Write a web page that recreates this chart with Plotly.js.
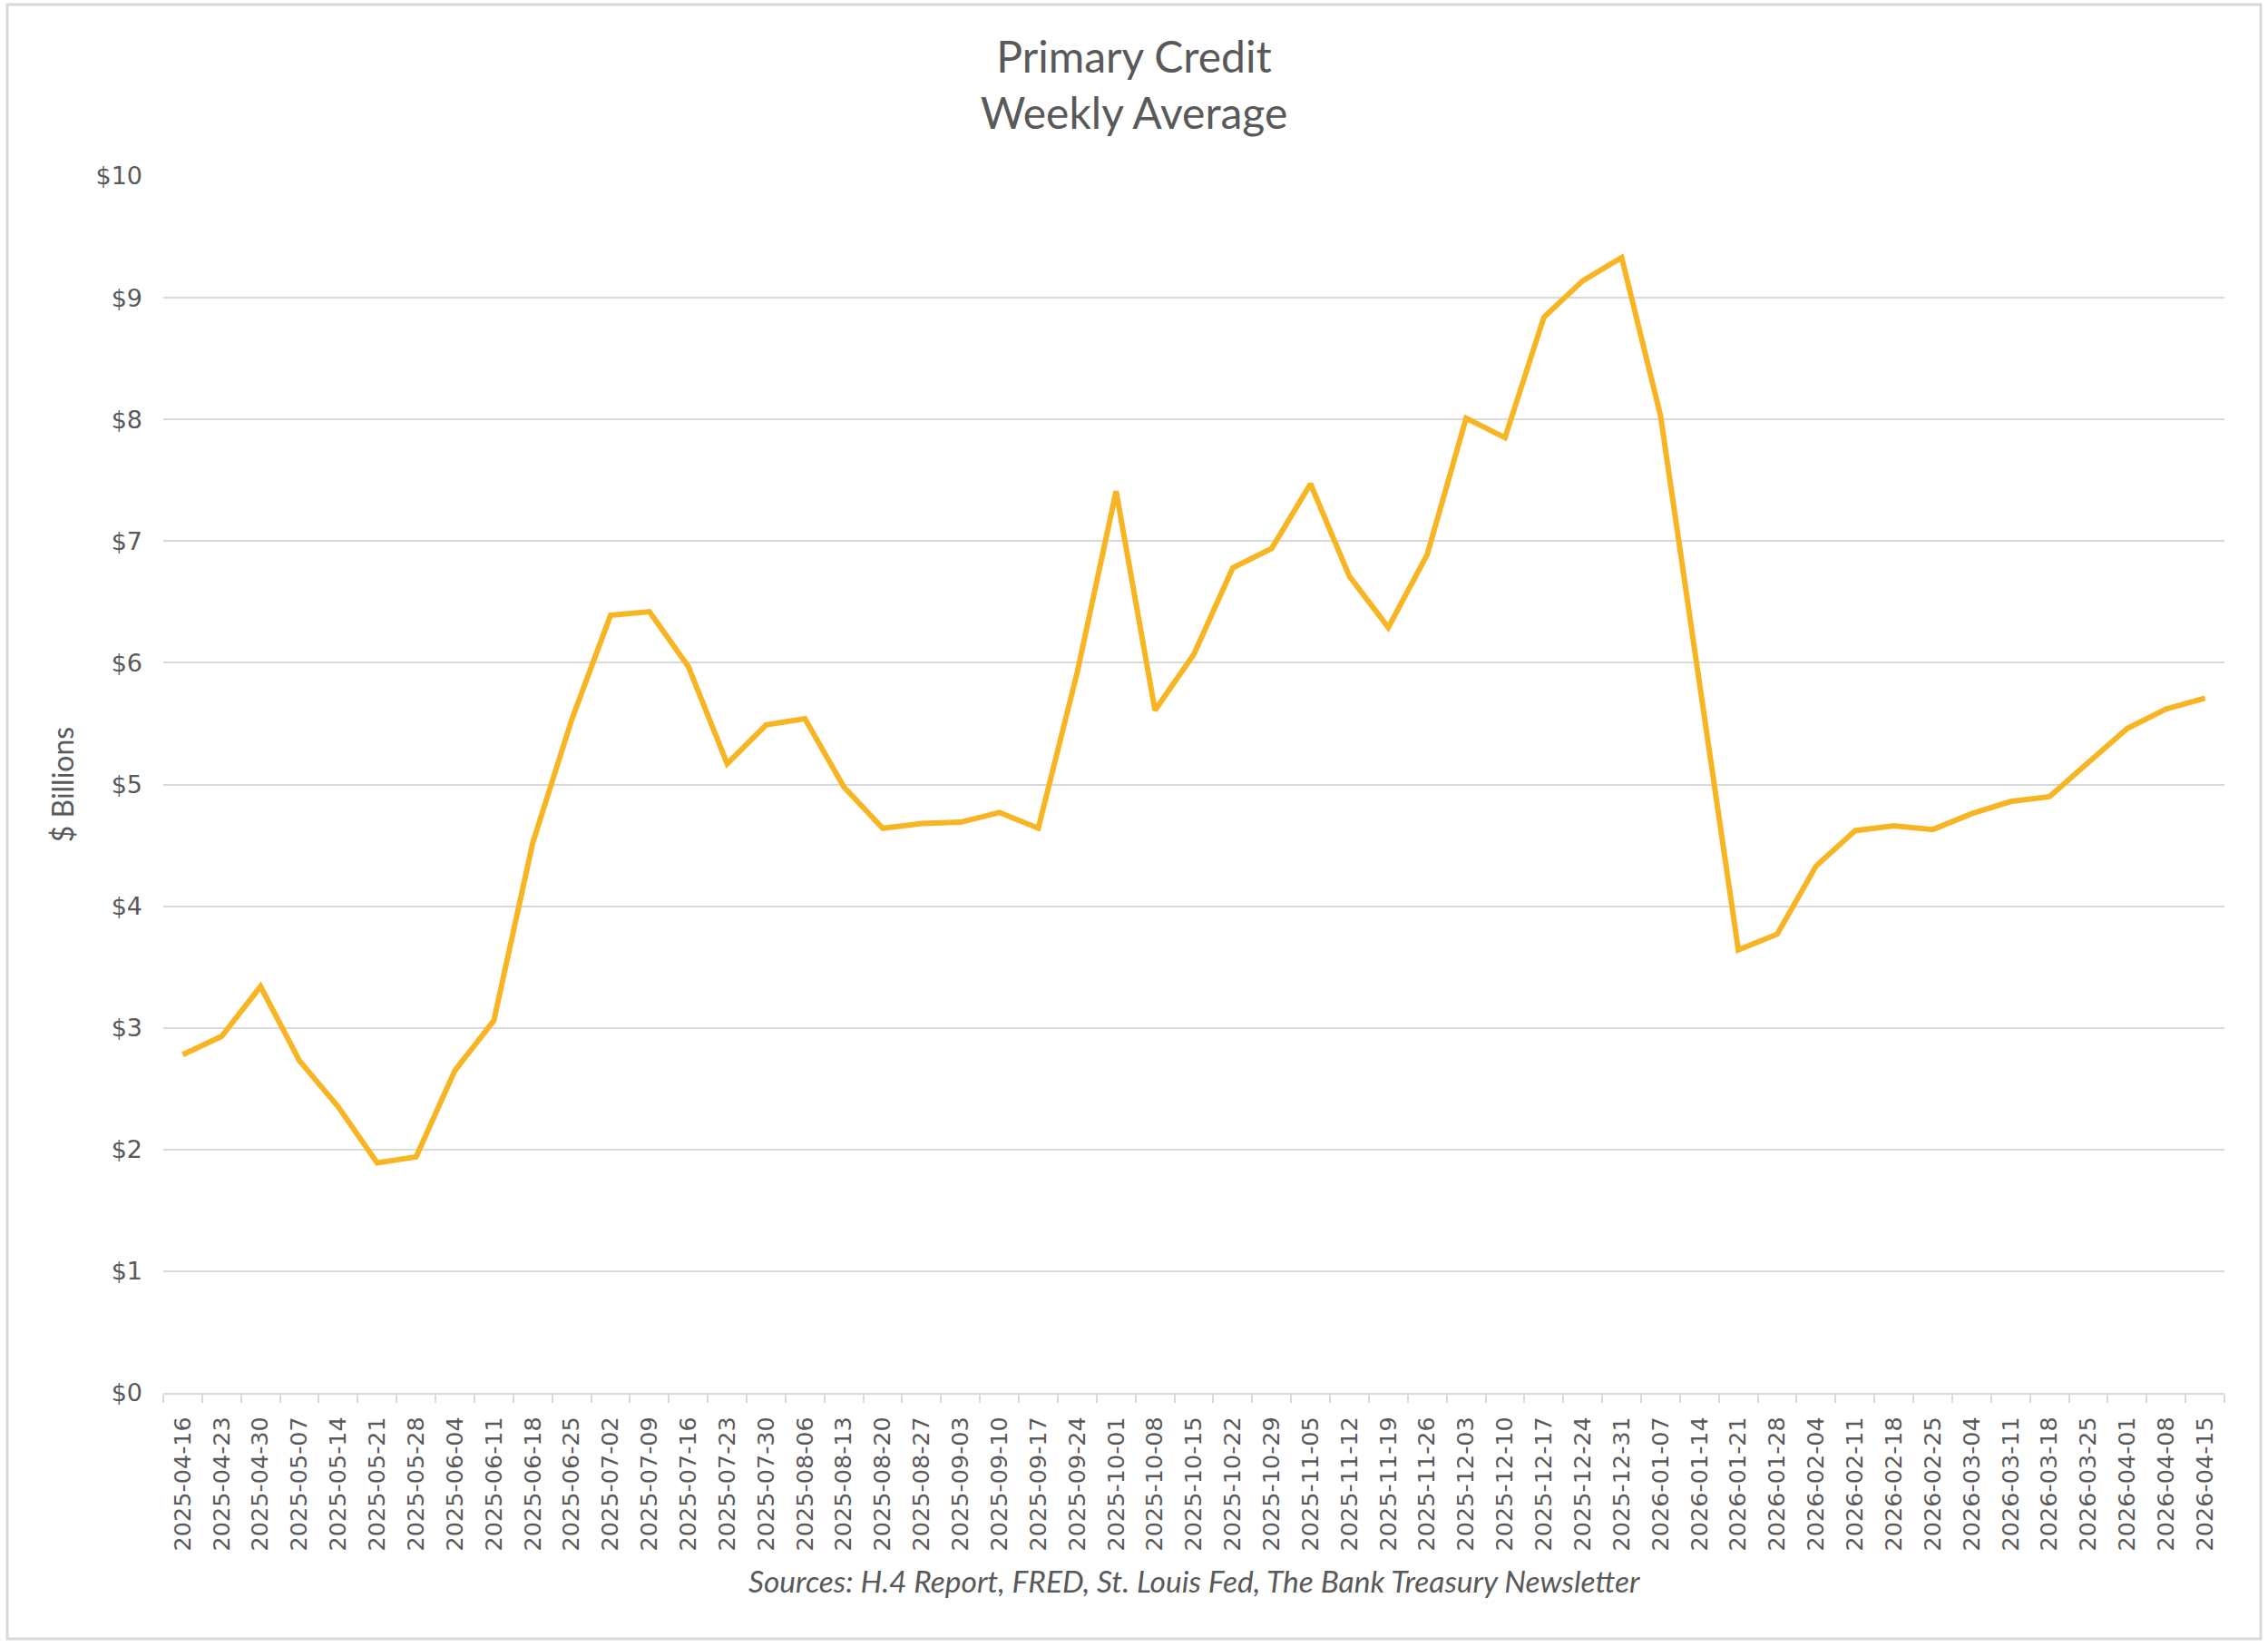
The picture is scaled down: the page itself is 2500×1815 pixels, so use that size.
<!DOCTYPE html>
<html>
<head>
<meta charset="utf-8">
<script src="https://cdn.plot.ly/plotly-3.0.1.min.js"></script>
<style>
  html, body { margin: 0; padding: 0; background: #ffffff; }
  #chart { width: 2500px; height: 1815px; }
</style>
</head>
<body>
<div id="chart"></div>
<script>
// Weekly dates (category labels)
const weeks = [
  "2025-04-16","2025-04-23","2025-04-30","2025-05-07","2025-05-14","2025-05-21","2025-05-28",
  "2025-06-04","2025-06-11","2025-06-18","2025-06-25","2025-07-02","2025-07-09","2025-07-16",
  "2025-07-23","2025-07-30","2025-08-06","2025-08-13","2025-08-20","2025-08-27","2025-09-03",
  "2025-09-10","2025-09-17","2025-09-24","2025-10-01","2025-10-08","2025-10-15","2025-10-22",
  "2025-10-29","2025-11-05","2025-11-12","2025-11-19","2025-11-26","2025-12-03","2025-12-10",
  "2025-12-17","2025-12-24","2025-12-31","2026-01-07","2026-01-14","2026-01-21","2026-01-28",
  "2026-02-04","2026-02-11","2026-02-18","2026-02-25","2026-03-04","2026-03-11","2026-03-18",
  "2026-03-25","2026-04-01","2026-04-08","2026-04-15"
];

// Primary credit, weekly average, $ billions
const primaryCredit = [
  2.78, 2.93, 3.34, 2.73, 2.35, 1.89, 1.94,
  2.65, 3.06, 4.52, 5.53, 6.39, 6.42, 5.97,
  5.17, 5.49, 5.54, 4.98, 4.64, 4.68, 4.69,
  4.77, 4.64, 5.92, 7.41, 5.61, 6.07, 6.78,
  6.94, 7.47, 6.71, 6.29, 6.89, 8.01, 7.85,
  8.84, 9.14, 9.33, 8.03, 5.85, 3.64, 3.77,
  4.33, 4.62, 4.66, 4.63, 4.76, 4.86, 4.90,
  5.18, 5.46, 5.62, 5.71
];

// y-axis ticks and their labels
const yTickVals = [0, 1, 2, 3, 4, 5, 6, 7, 8, 9, 10];
const yTickText = ["$0", "$1", "$2", "$3", "$4", "$5", "$6", "$7", "$8", "$9", "$10"];

const titleText = "Primary Credit<br>Weekly Average";
const yTitle = "$ Billions";
const sourceText = "Sources: H.4 Report, FRED, St. Louis Fed, The Bank Treasury Newsletter";

const textColor = "#595959";
const gridColor = "#D9D9D9";

const trace = {
  type: "scatter",
  mode: "lines",
  x: weeks,
  y: primaryCredit,
  line: { color: "#F8B523", width: 6 },
  hoverinfo: "x+y"
};

const layout = {
  width: 2500,
  height: 1815,
  paper_bgcolor: "#ffffff",
  plot_bgcolor: "#ffffff",
  margin: { l: 180, r: 48, t: 194, b: 280 },
  showlegend: false,
  title: {
    text: titleText,
    x: 0.5,
    xanchor: "center",
    y: 0.956,
    yanchor: "top",
    font: { family: "Lato, 'Open Sans', sans-serif", size: 48, color: textColor }
  },
  xaxis: {
    type: "category",
    range: [-0.5, weeks.length - 0.5],
    tickangle: -90,
    tickson: "boundaries",
    ticks: "outside",
    ticklen: 9,
    tickwidth: 2,
    tickcolor: gridColor,
    showline: true,
    linecolor: gridColor,
    linewidth: 2,
    showgrid: false,
    zeroline: false,
    ticklabelstandoff: 14,
    tickfont: { family: "'DejaVu Sans', sans-serif", size: 25.5, color: textColor }
  },
  yaxis: {
    range: [0, 10],
    tickmode: "array",
    tickvals: yTickVals,
    ticktext: yTickText,
    showgrid: true,
    gridcolor: gridColor,
    gridwidth: 2,
    zeroline: false,
    showline: false,
    ticks: "",
    ticklabelstandoff: 22,
    tickfont: { family: "'DejaVu Sans', sans-serif", size: 27, color: textColor },
    title: {
      text: yTitle,
      standoff: 14,
      font: { family: "Lato, 'Open Sans', sans-serif", size: 32, color: textColor }
    }
  },
  annotations: [
    {
      text: sourceText,
      xref: "paper", yref: "paper",
      x: 0.5004, y: -0.1544,
      xanchor: "center", yanchor: "middle",
      showarrow: false,
      font: { family: "Lato, 'Open Sans', sans-serif", size: 33.5, color: textColor, style: "italic" }
    }
  ],
  shapes: [
    {
      type: "rect",
      xref: "paper", yref: "paper",
      x0: -0.0757, x1: 1.0176,
      y0: -0.2021, y1: 1.1409,
      line: { color: gridColor, width: 3 },
      fillcolor: "rgba(0,0,0,0)",
      layer: "below"
    }
  ]
};

Plotly.newPlot("chart", [trace], layout, { displayModeBar: false, staticPlot: true });
</script>
</body>
</html>
